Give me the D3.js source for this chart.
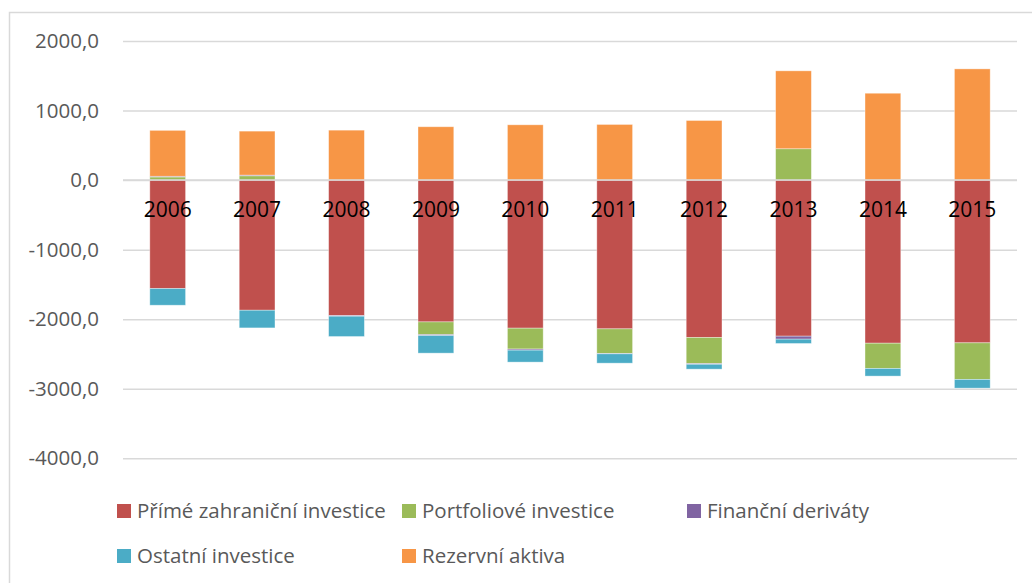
<!DOCTYPE html>
<html>
<head>
<meta charset="utf-8">
<script src="https://cdn.jsdelivr.net/npm/d3@7"></script>
<style>
  body { margin: 0; background: #fff; }
  svg { display: block; }
</style>
</head>
<body>
<div id="chart"></div>
<script>
// data
const years = ['2006', '2007', '2008', '2009', '2010', '2011', '2012', '2013', '2014', '2015']
const prime = [-1559, -1871, -1947, -2039, -2129, -2139, -2263, -2244, -2345, -2340]
const portfolio = [45, 62, 0, -182, -300, -354, -375, 451, -363, -526]
const derivaty = [10, 10, -10, -14, -16, -5, -10, -43, 0, 0]
const ostatni = [-240, -254, -292, -253, -172, -134, -70, -62, -110, -125]
const rezervy = [660, 632, 718, 767, 795, 800, 857, 1120, 1249, 1599]
const seriesNames = ['Přímé zahraniční investice', 'Portfoliové investice', 'Finanční deriváty', 'Ostatní investice', 'Rezervní aktiva']
const yTicks = [2000, 1000, 0, -1000, -2000, -3000, -4000]

let chart = {
  'config': {
    'width': 1032,
    'height': 583,
    'margin': { top: 41, right: 14, bottom: 125, left: 123 },
    'colors': ['#c0504d', '#9bbb59', '#8064a2', '#4bacc6', '#f79646']
  }
}

const keys = ['prime', 'portfolio', 'derivaty', 'ostatni', 'rezervy']
const rows = years.map(function(y, i) {
  return { year: y, prime: prime[i], portfolio: portfolio[i], derivaty: derivaty[i], ostatni: ostatni[i], rezervy: rezervy[i] }
})

const cfg = chart.config
const svg = d3.select('#chart')
  .append('svg')
  .attr('width', cfg.width)
  .attr('height', cfg.height)

// frame (left + top edges visible)
svg.append('rect')
  .attr('x', 9.5).attr('y', 12.5)
  .attr('width', 1100).attr('height', 700)
  .attr('fill', 'none')
  .attr('stroke', '#d9d9d9')
  .attr('stroke-width', 1.5)

const x = d3.scaleBand()
  .domain(years)
  .range([cfg.margin.left, cfg.width - cfg.margin.right - 1])
  .paddingInner(0.6)
  .paddingOuter(0.3)

const y = d3.scaleLinear()
  .domain([-4000, 2000])
  .range([458.3, 41])

const locale = d3.formatLocale({ decimal: ',', thousands: ' ', grouping: [3], currency: ['', ''], minus: '-' })
const fmt = locale.format('.1f')

// gridlines + tick labels
const yAxis = svg.append('g')
  .attr('transform', `translate(${cfg.margin.left},0)`)
  .call(d3.axisLeft(y)
    .tickValues(yTicks)
    .tickSize(-(x.range()[1] - cfg.margin.left))
    .tickPadding(24)
    .tickFormat(fmt))
yAxis.select('.domain').remove()
yAxis.selectAll('.tick line')
  .attr('stroke', '#d9d9d9')
  .attr('stroke-width', 1.5)
yAxis.selectAll('.tick text')
  .attr('fill', '#595959')
  .style('font-family', '"Open Sans", sans-serif')
  .style('font-size', '20.5px')

const stack = d3.stack()
  .keys(keys)
  .offset(d3.stackOffsetDiverging)

const layers = svg.append('g')
  .selectAll('g')
  .data(stack(rows))
  .join('g')
  .attr('fill', function(d, i) { return cfg.colors[i] })

layers.selectAll('rect')
  .data(function(d) { return d })
  .join('rect')
  .attr('x', function(d) { return x(d.data.year) })
  .attr('width', x.bandwidth())
  .attr('y', function(d) { return y(Math.max(d[0], d[1])) })
  .attr('height', function(d) { return Math.abs(y(d[0]) - y(d[1])) })
  .attr('stroke', '#ffffff')
  .attr('stroke-opacity', 0.45)
  .attr('stroke-width', 0.8)

// category labels sit next to the zero line
const xAxis = svg.append('g')
  .attr('transform', `translate(0,${y(0)})`)
  .call(d3.axisBottom(x).tickSize(0).tickPadding(22))
xAxis.select('.domain').remove()
xAxis.selectAll('.tick text')
  .attr('fill', '#000')
  .style('font-family', '"Open Sans", sans-serif')
  .style('font-size', '21px')

// zero line drawn again on top of the bars
svg.append('line')
  .attr('x1', cfg.margin.left).attr('x2', x.range()[1])
  .attr('y1', y(0)).attr('y2', y(0))
  .attr('stroke', '#d9d9d9')
  .attr('stroke-width', 1.5)

// legend
const legendPos = [[117, 511], [402, 511], [687, 511], [117, 556], [402, 556]]
const legend = svg.append('g')
  .selectAll('g')
  .data(seriesNames)
  .join('g')
  .attr('transform', function(d, i) { return `translate(${legendPos[i][0]},${legendPos[i][1]})` })

legend.append('rect')
  .attr('x', 0).attr('y', -7)
  .attr('width', 14).attr('height', 14)
  .attr('fill', function(d, i) { return cfg.colors[i] })

legend.append('text')
  .attr('x', 20)
  .attr('dy', '0.35em')
  .attr('fill', '#595959')
  .style('font-family', '"Open Sans", sans-serif')
  .style('font-size', '20.5px')
  .text(function(d) { return d })
</script>
</body>
</html>
